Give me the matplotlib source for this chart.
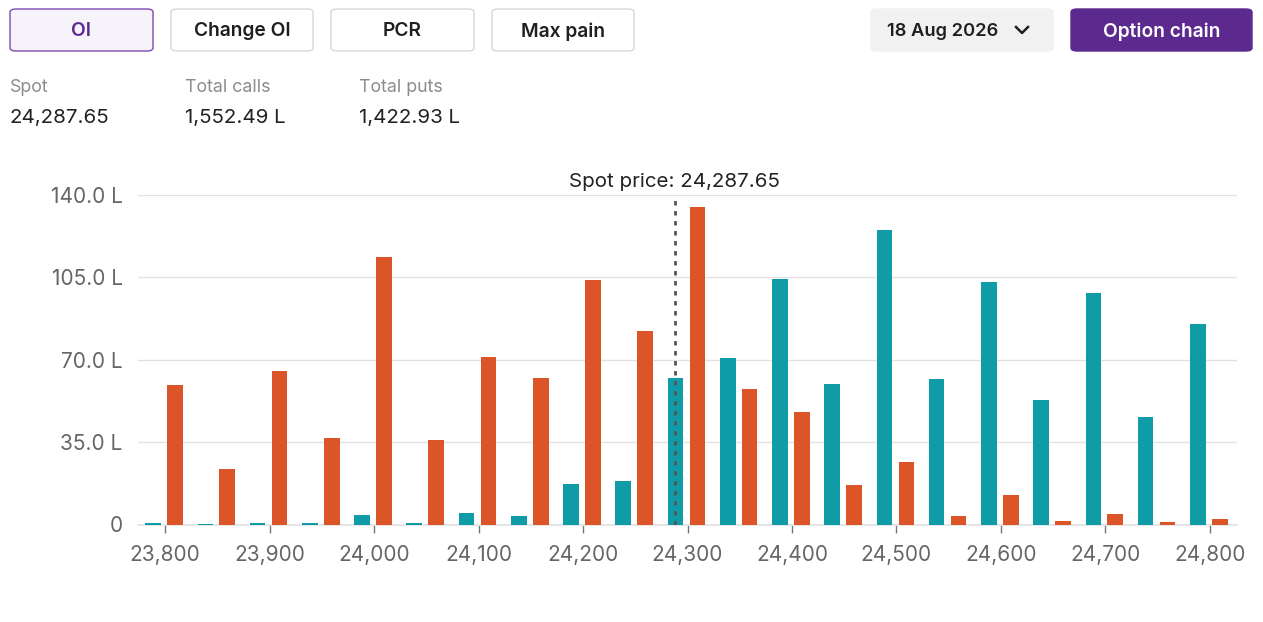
import matplotlib
matplotlib.use("Agg")
import matplotlib.pyplot as plt
from matplotlib.patches import FancyBboxPatch
from matplotlib.lines import Line2D
from matplotlib.ticker import FuncFormatter

plt.rcParams['font.family'] = ['Inter', 'DejaVu Sans']

# data (in lakh)
strikes = [23800, 23850, 23900, 23950, 24000, 24050, 24100, 24150, 24200, 24250, 24300,
           24350, 24400, 24450, 24500, 24550, 24600, 24650, 24700, 24750, 24800]
calls_oi = [0.6, 0.3, 0.7, 0.5, 4.0, 0.8, 4.8, 3.8, 17.3, 18.6, 62.0,
            70.8, 104.4, 59.8, 125.1, 61.6, 102.9, 52.7, 98.2, 45.7, 85.3]
puts_oi = [59.2, 23.6, 65.0, 36.6, 113.5, 35.9, 71.0, 62.0, 103.9, 82.3, 134.8,
           57.6, 47.8, 16.9, 26.4, 3.4, 12.5, 1.5, 4.6, 0.9, 2.5]
spot = 24287.65
total_calls = "1,552.49 L"
total_puts = "1,422.93 L"
expiry = "18 Aug 2026"
tabs = ["OI", "Change OI", "PCR", "Max pain"]
y_ticks = [0, 35, 70, 105, 140]
x_ticks = [23800, 23900, 24000, 24100, 24200, 24300, 24400, 24500, 24600, 24700, 24800]

W, H = 1263, 622
CALL_COLOR = '#109ca7'
PUT_COLOR = '#db5528'
PURPLE = '#5c2a8e'

fig = plt.figure(figsize=(W / 100, H / 100), dpi=100)


def fx(px):
    return px / W


def fy(py):
    return 1 - py / H


def button(x0, y0, x1, y1, label, face, edge, color, weight='semibold', size=13.8):
    box = FancyBboxPatch((fx(x0), fy(y1)), fx(x1 - x0), (y1 - y0) / H,
                         boxstyle="round,pad=0,rounding_size=0.005",
                         transform=fig.transFigure, facecolor=face,
                         edgecolor=edge, linewidth=1.0)
    fig.add_artist(box)
    if label:
        fig.text(fx((x0 + x1) / 2), fy((y0 + y1) / 2 + 1.5), label, ha='center', va='center',
                 color=color, fontsize=size, fontweight=weight)


# tabs
tab_x = [(10, 153), (171, 313), (331, 474), (492, 634)]
for i, (name, (a, b)) in enumerate(zip(tabs, tab_x)):
    if i == 0:
        button(a, 9, b, 51, name, '#f6f3fb', '#7a4bb0', PURPLE)
    else:
        button(a, 9, b, 51, name, 'white', '#d6d6d6', '#1f1f1f')

# expiry dropdown and option chain button
button(871, 9, 1053, 51, None, '#f1f1f1', '#f1f1f1', '#1f1f1f')
fig.text(fx(887), fy(31.5), expiry, ha='left', va='center', color='#1f1f1f',
         fontsize=13.2, fontweight='semibold')
fig.add_artist(Line2D([fx(1016), fx(1022), fx(1028)], [fy(27), fy(33), fy(27)],
                      transform=fig.transFigure, color='#1f1f1f', linewidth=1.8))
button(1071, 9, 1252, 51, "Option chain", PURPLE, PURPLE, 'white', size=13.8)

# summary stats
stats = [("Spot", f"{spot:,.2f}", 10), ("Total calls", total_calls, 185),
         ("Total puts", total_puts, 359)]
for title, value, x in stats:
    fig.text(fx(x), fy(88), title, ha='left', va='center', color='#8c8c8c', fontsize=12.8)
    fig.text(fx(x), fy(118), value, ha='left', va='center', color='#222222', fontsize=14.8)

# chart
ax_left, ax_right, ax_top, ax_bottom = 138, 1237, 194.7, 524.5
ax = fig.add_axes([fx(ax_left), fy(ax_bottom), fx(ax_right - ax_left), (ax_bottom - ax_top) / H])

bar_w = 15
ax.bar([s - 11.5 for s in strikes], calls_oi, width=bar_w, color=CALL_COLOR, zorder=3)
ax.bar([s + 9.5 for s in strikes], puts_oi, width=bar_w, color=PUT_COLOR, zorder=3)

ax.set_xlim(23774, 24826)
ax.set_ylim(0, 140)
ax.set_yticks(y_ticks)
ax.yaxis.set_major_formatter(FuncFormatter(lambda v, p: "0" if v == 0 else f"{v:.1f} L"))
ax.set_xticks(x_ticks)
ax.xaxis.set_major_formatter(FuncFormatter(lambda v, p: f"{int(v):,}"))
ax.grid(axis='y', color='#e2e2e2', linewidth=1, zorder=0)
for side in ['top', 'right', 'left']:
    ax.spines[side].set_visible(False)
ax.spines['bottom'].set_color('#e2e2e2')
ax.spines['bottom'].set_linewidth(1.2)
ax.tick_params(axis='y', length=0, pad=11, labelsize=15, labelcolor='#666666')
ax.tick_params(axis='x', length=6, width=1, color='#777777', pad=9, labelsize=15,
               labelcolor='#666666')

# spot marker
ax.axvline(spot, ymin=0, ymax=0.995, color='#555555', linestyle=(0, (1.6, 2)),
           linewidth=2, zorder=4)
ax.text(spot, 141.6, f"Spot price: {spot:,.2f}", ha='center', va='bottom',
        color='#222222', fontsize=14.8, clip_on=False)

fig.savefig("out.png", dpi=100)
